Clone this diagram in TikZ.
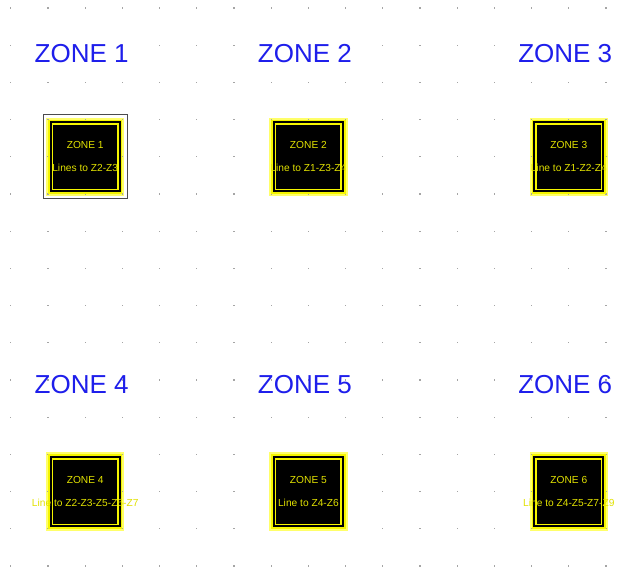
\documentclass[tikz,border=0pt]{standalone}
\usepackage{fontspec}
\setmainfont{Liberation Sans}
\definecolor{ztitle}{RGB}{30,30,235}
\definecolor{zyel}{RGB}{245,245,0}
\definecolor{ztxt}{RGB}{225,225,0}
\definecolor{zpale}{RGB}{255,255,105}
\definecolor{zdot}{RGB}{165,165,165}
\begin{document}
\begin{tikzpicture}[x=1pt,y=-1pt,
  title/.style={font=\fontsize{26}{26}\selectfont, text=ztitle, anchor=base west, inner sep=0pt},
  zonebox/.style={rectangle, minimum size=69.2pt, inner sep=0pt, fill=black, draw=zyel, line width=1.6pt, double=black, double distance=2pt},
  ztext/.style={font=\fontsize{10.2}{10.2}\selectfont, text=ztxt, anchor=base, inner sep=0pt},
  selbox/.style={rectangle, minimum size=84pt, inner sep=0pt, draw=black!70, line width=0.8pt}]
\useasboundingbox (0,0) rectangle (639,569);
\fill[white] (0,0) rectangle (639,569);
% pale highlight squares
\foreach \cx/\cy in {85.2/156.8, 308.4/156.8, 568.8/156.8, 85.2/491.6, 308.4/491.6, 568.8/491.6}
  \fill[zpale] (\cx-39.2,\cy-39.2) rectangle (\cx+39.2,\cy+39.2);
% grid dots
\foreach \i in {0,...,16}
  \foreach \j in {0,...,15}
    \fill[zdot] (10.8+37.2*\i-0.6, 8+37.2*\j-0.6) rectangle ++(1.2,1.2);
% titles
\node[title] (t1) at (34.5,62.5) {ZONE 1};
\node[title] (t2) at (257.7,62.5) {ZONE 2};
\node[title] (t3) at (518.1,62.5) {ZONE 3};
\node[title] (t4) at (34.5,393.5) {ZONE 4};
\node[title] (t5) at (257.7,393.5) {ZONE 5};
\node[title] (t6) at (518.1,393.5) {ZONE 6};
% zone boxes
\node[selbox] (sel) at (84.9,156.4) {};
\node[zonebox] (z1) at (85.2,156.8) {};
\node[zonebox] (z2) at (308.4,156.8) {};
\node[zonebox] (z3) at (568.8,156.8) {};
\node[zonebox] (z4) at (85.2,491.6) {};
\node[zonebox] (z5) at (308.4,491.6) {};
\node[zonebox] (z6) at (568.8,491.6) {};
% texts
\node[ztext] (z1a) at ([yshift=8.4pt]z1.center) {ZONE 1};
\node[ztext] (z1b) at ([yshift=-15pt]z1.center) {Lines to Z2-Z3};
\node[ztext] (z2a) at ([yshift=8.4pt]z2.center) {ZONE 2};
\node[ztext] (z2b) at ([yshift=-15pt]z2.center) {Line to Z1-Z3-Z4};
\node[ztext] (z3a) at ([yshift=8.4pt]z3.center) {ZONE 3};
\node[ztext] (z3b) at ([yshift=-15pt]z3.center) {Line to Z1-Z2-Z4};
\node[ztext] (z4a) at ([yshift=8.4pt]z4.center) {ZONE 4};
\node[ztext] (z4b) at ([yshift=-15pt]z4.center) {Line to Z2-Z3-Z5-Z6-Z7};
\node[ztext] (z5a) at ([yshift=8.4pt]z5.center) {ZONE 5};
\node[ztext] (z5b) at ([yshift=-15pt]z5.center) {Line to Z4-Z6};
\node[ztext] (z6a) at ([yshift=8.4pt]z6.center) {ZONE 6};
\node[ztext] (z6b) at ([yshift=-15pt]z6.center) {Line to Z4-Z5-Z7-Z9};
\end{tikzpicture}
\end{document}
